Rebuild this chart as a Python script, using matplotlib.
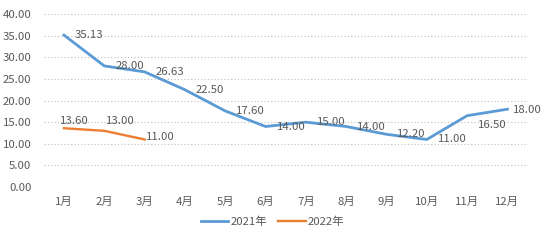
import matplotlib.pyplot as plt

plt.rcParams['font.family'] = ['Noto Sans CJK SC', 'DejaVu Sans']

months = ['1月', '2月', '3月', '4月', '5月', '6月', '7月', '8月', '9月', '10月', '11月', '12月']
y2021 = [35.13, 28.00, 26.63, 22.50, 17.60, 14.00, 15.00, 14.00, 12.20, 11.00, 16.50, 18.00]
y2022 = [13.60, 13.00, 11.00]
yticks = [0, 5, 10, 15, 20, 25, 30, 35, 40]

# label offsets in pixels (left edge / vertical centre relative to the point)
off2021 = [(11, 0)] * 10 + [(11, -9), (6, -1)]
off2022 = [(-4, 7), (2, 10), (1, 2)]

blue = '#5B9BD5'
orange = '#ED7D31'
grey = '#595959'
fs = 8.2

fig = plt.figure(figsize=(5.45, 2.42), dpi=100)
ax = fig.add_axes([0.0804, 0.227, 0.8876, 0.715])

x1 = range(len(y2021))
x2 = range(len(y2022))
ax.plot(x1, y2021, color=blue, lw=2.0, label='2021年', solid_joinstyle='round')
ax.plot(x2, y2022, color=orange, lw=1.7, label='2022年', solid_joinstyle='round')

for i, v in enumerate(y2021):
    ax.annotate(f'{v:.2f}', (i, v), xytext=off2021[i], textcoords='offset pixels',
                ha='left', va='center', fontsize=fs, color=grey)
for i, v in enumerate(y2022):
    ax.annotate(f'{v:.2f}', (i, v), xytext=off2022[i], textcoords='offset pixels',
                ha='left', va='center', fontsize=fs, color=grey)

ax.set_xlim(-0.5, len(months) - 0.5)
ax.set_ylim(0, 40)
ax.set_xticks(range(len(months)))
ax.set_xticklabels(months)
ax.set_yticks(yticks)
ax.set_yticklabels([f'{t:.2f}' for t in yticks])
ax.tick_params(axis='both', length=0, labelsize=fs, colors=grey)
ax.tick_params(axis='y', pad=9)
ax.tick_params(axis='x', pad=7)
ax.grid(axis='y', color='#BFBFBF', lw=0.8, linestyle=(0, (1, 2)))
ax.set_axisbelow(True)
for s in ax.spines.values():
    s.set_visible(False)

leg = fig.legend(loc='center', bbox_to_anchor=(0.5, 1 - 222 / 242), ncol=2, frameon=False,
                 fontsize=fs, handlelength=2.4, handletextpad=0.2, columnspacing=1.0)
for t in leg.get_texts():
    t.set_color(grey)

fig.savefig('out.png', dpi=100)
